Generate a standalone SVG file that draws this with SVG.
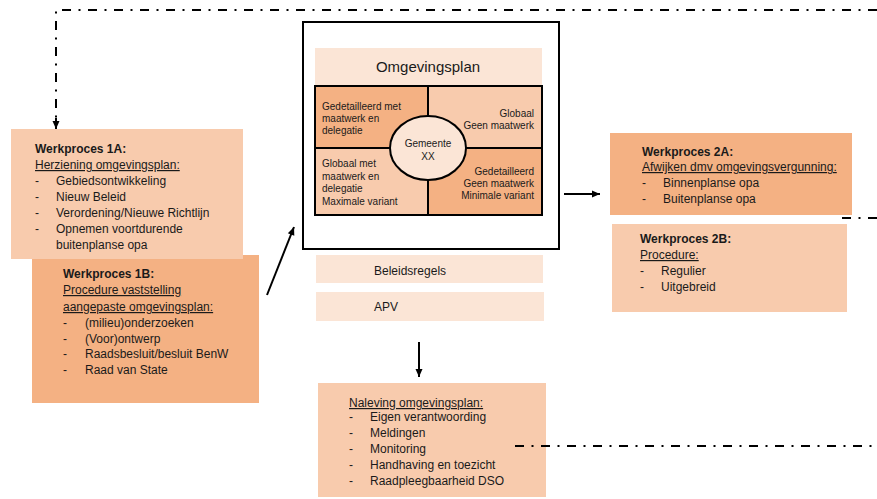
<svg xmlns="http://www.w3.org/2000/svg" width="877" height="499" viewBox="0 0 877 499">
<defs>
<style>
text{font-family:"Liberation Sans",Arial,sans-serif;font-size:12px;fill:#1a1a1a}
.b{font-weight:bold}
.u{text-decoration:underline}
.s{font-size:10px}
.r{text-anchor:end}
.m{text-anchor:middle}
.dark{fill:#F4B183}
.light{fill:#F8CBAD}
.pale{fill:#FBE5D6}
.dd{fill:none;stroke:#000;stroke-width:2;stroke-dasharray:9 7.5 2 7.5}
.ar{fill:none;stroke:#000;stroke-width:2}
</style>
<marker id="ah" markerUnits="userSpaceOnUse" markerWidth="10" markerHeight="10" viewBox="0 0 10 10" refX="9" refY="5" orient="auto">
<path d="M1,1.5 L9,5 L1,8.5 Z" fill="#000"/>
</marker>
</defs>
<rect width="877" height="499" fill="#fff"/>

<g id="werkproces-1b">
<rect class="dark" x="32" y="255" width="227" height="148"/>
<text class="b" x="63" y="278">Werkproces 1B:</text>
<text class="u" x="63" y="294">Procedure vaststelling</text>
<text class="u" x="63" y="311">aangepaste omgevingsplan:</text>
<text x="63" y="327">-</text><text x="85" y="327">(milieu)onderzoeken</text>
<text x="63" y="343">-</text><text x="85" y="343">(Voor)ontwerp</text>
<text x="63" y="358">-</text><text x="85" y="358">Raadsbesluit/besluit BenW</text>
<text x="63" y="374">-</text><text x="85" y="374">Raad van State</text>
</g>

<g id="werkproces-1a">
<rect class="light" x="11" y="129" width="232" height="130"/>
<text class="b" x="35" y="153">Werkproces 1A:</text>
<text class="u" x="35" y="169">Herziening omgevingsplan:</text>
<text x="35" y="185">-</text><text x="56" y="185">Gebiedsontwikkeling</text>
<text x="35" y="201">-</text><text x="56" y="201">Nieuw Beleid</text>
<text x="35" y="217">-</text><text x="56" y="217">Verordening/Nieuwe Richtlijn</text>
<text x="35" y="233">-</text><text x="56" y="233">Opnemen voortdurende</text>
<text x="56" y="249">buitenplanse opa</text>
</g>

<g id="omgevingsplan">
<rect x="303" y="22" width="256" height="227" fill="#fff" stroke="#000" stroke-width="2"/>
<rect class="pale" x="315" y="48" width="227" height="38"/>
<text class="m" x="428" y="72" style="font-size:15px">Omgevingsplan</text>
<rect class="dark" x="315" y="86" width="113" height="62"/>
<rect class="light" x="428" y="86" width="114" height="62"/>
<rect class="light" x="315" y="148" width="113" height="67"/>
<rect class="dark" x="428" y="148" width="114" height="67"/>
<rect x="315" y="86" width="227" height="129" fill="none" stroke="#000" stroke-width="2"/>
<line x1="428" y1="86" x2="428" y2="215" stroke="#000" stroke-width="2"/>
<line x1="315" y1="148" x2="542" y2="148" stroke="#000" stroke-width="2"/>
<text class="s" x="322" y="110">Gedetailleerd met</text>
<text class="s" x="322" y="122">maatwerk en</text>
<text class="s" x="322" y="134">delegatie</text>
<text class="s r" x="534" y="117">Globaal</text>
<text class="s r" x="534" y="129">Geen maatwerk</text>
<text class="s" x="322" y="167">Globaal met</text>
<text class="s" x="322" y="180">maatwerk en</text>
<text class="s" x="322" y="192">delegatie</text>
<text class="s" x="322" y="205">Maximale variant</text>
<text class="s r" x="534" y="175">Gedetailleerd</text>
<text class="s r" x="534" y="187">Geen maatwerk</text>
<text class="s r" x="534" y="199">Minimale variant</text>
</g>

<g id="gemeente">
<ellipse class="pale" cx="428" cy="148" rx="38" ry="32" stroke="#000" stroke-width="2"/>
<text class="s m" x="428" y="147">Gemeente</text>
<text class="s m" x="428" y="160">XX</text>
</g>

<g id="beleidsregels">
<rect class="pale" x="316" y="255" width="227" height="28"/>
<text x="374" y="275">Beleidsregels</text>
</g>

<g id="apv">
<rect class="pale" x="316" y="292" width="228" height="29"/>
<text x="374" y="311">APV</text>
</g>

<g id="naleving">
<rect class="light" x="318" y="383" width="228" height="114"/>
<text class="u" x="349" y="407">Naleving omgevingsplan:</text>
<text x="349" y="421">-</text><text x="370" y="421">Eigen verantwoording</text>
<text x="349" y="437">-</text><text x="370" y="437">Meldingen</text>
<text x="349" y="453">-</text><text x="370" y="453">Monitoring</text>
<text x="349" y="469">-</text><text x="370" y="469">Handhaving en toezicht</text>
<text x="349" y="485">-</text><text x="370" y="485">Raadpleegbaarheid DSO</text>
</g>

<g id="werkproces-2a">
<rect class="dark" x="610" y="133" width="242" height="82"/>
<text class="b" x="642" y="156">Werkproces 2A:</text>
<text class="u" x="642" y="171">Afwijken dmv omgevingsvergunning:</text>
<text x="642" y="187">-</text><text x="663" y="187">Binnenplanse opa</text>
<text x="642" y="203">-</text><text x="663" y="203">Buitenplanse opa</text>
</g>

<g id="werkproces-2b">
<rect class="light" x="612" y="224" width="235" height="88"/>
<text class="b" x="640" y="243">Werkproces 2B:</text>
<text class="u" x="640" y="259">Procedure:</text>
<text x="640" y="275">-</text><text x="661" y="275">Regulier</text>
<text x="640" y="291">-</text><text x="661" y="291">Uitgebreid</text>
</g>

<g id="connectors">
<path class="dd" d="M877,10 L56,10 L56,122"/>
<line x1="56" y1="118" x2="56" y2="129" class="ar" marker-end="url(#ah)"/>
<line class="dd" x1="515" y1="446" x2="877" y2="446"/>
<line class="dd" x1="842" y1="218" x2="877" y2="218"/>
<line class="ar" x1="267" y1="295" x2="294" y2="227" marker-end="url(#ah)"/>
<line class="ar" x1="564" y1="194" x2="600" y2="194" marker-end="url(#ah)"/>
<line class="ar" x1="419" y1="342" x2="419" y2="377" marker-end="url(#ah)"/>
</g>
</svg>
